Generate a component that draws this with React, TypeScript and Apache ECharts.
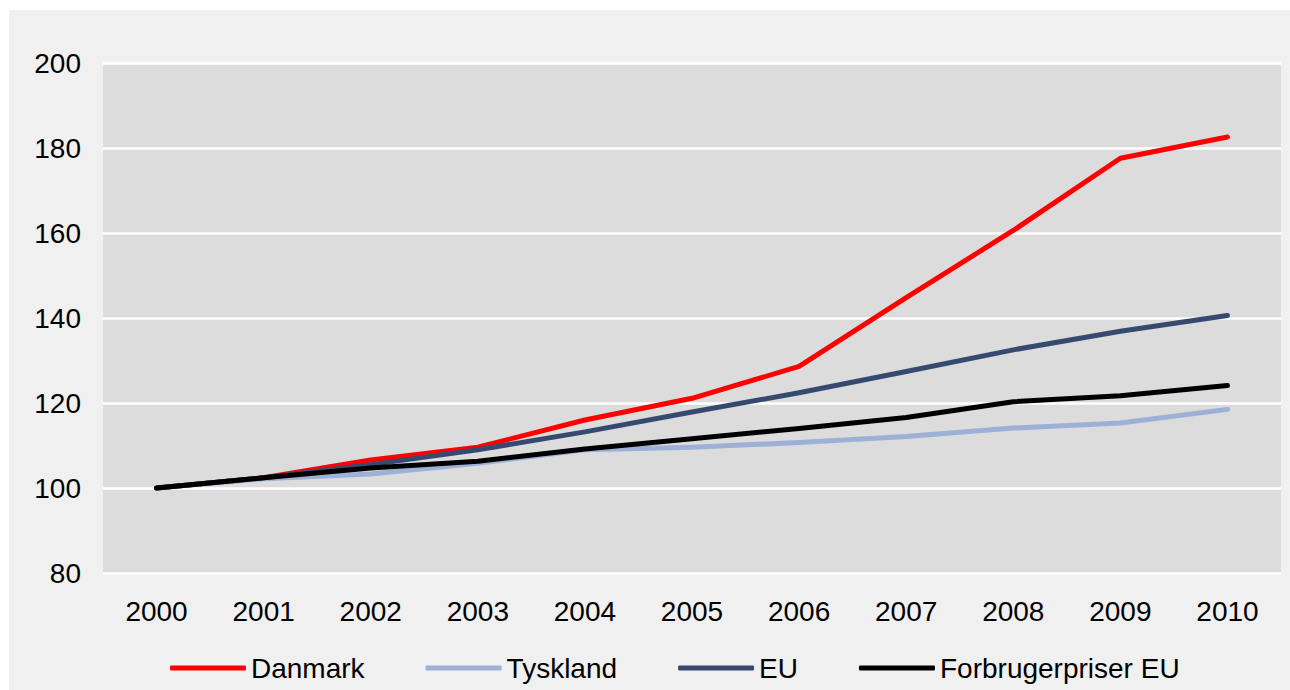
import React, { useEffect, useRef } from "react";
import * as echarts from "echarts";

const years = ["2000", "2001", "2002", "2003", "2004", "2005", "2006", "2007", "2008", "2009", "2010"];
const danmark = [100, 102.4, 106.6, 109.6, 116.0, 121.1, 128.6, 144.8, 160.6, 177.6, 182.6];
const tyskland = [100, 102.2, 103.3, 105.8, 109.0, 109.6, 110.7, 112.1, 114.1, 115.3, 118.5];
const eu = [100, 102.4, 105.5, 109.0, 113.2, 117.9, 122.4, 127.4, 132.5, 136.9, 140.6];
const forbrugerpriser = [100, 102.4, 104.7, 106.3, 109.2, 111.6, 114.0, 116.6, 120.3, 121.7, 124.1];

const FONT = "'Liberation Sans', Arial, sans-serif";

export default function App() {
  const ref = useRef<HTMLDivElement>(null);
  useEffect(() => {
    if (!ref.current) return;
    const chart = echarts.init(ref.current, null, { renderer: "svg" });
    const mk = (name: string, data: number[], color: string) => ({
      name,
      type: "line",
      data,
      showSymbol: false,
      symbol: "none",
      lineStyle: { color, width: 5, cap: "round", join: "round" },
      itemStyle: { color },
    });
    chart.setOption({
      animation: false,
      backgroundColor: "#f0f0f0",
      textStyle: { fontFamily: FONT },
      grid: {
        left: 94,
        right: 9,
        top: 53,
        bottom: 117,
        show: true,
        backgroundColor: "#dcdcdc",
        borderWidth: 0,
      },
      legend: {
        top: 639,
        left: 156,
        itemWidth: 76,
        itemHeight: 5,
        itemGap: 61,
        icon: "roundRect",
        textStyle: { fontSize: 28, color: "#000", fontFamily: FONT },
        data: ["Danmark", "Tyskland", "EU", "Forbrugerpriser EU"],
      },
      xAxis: {
        type: "category",
        data: years,
        boundaryGap: true,
        axisLine: { show: false },
        axisTick: { show: false },
        axisLabel: { fontSize: 28, color: "#000", margin: 24, fontFamily: FONT },
        splitLine: { show: false },
      },
      yAxis: {
        type: "value",
        min: 80,
        max: 200,
        interval: 20,
        axisLine: { show: false },
        axisTick: { show: false },
        axisLabel: { fontSize: 28, color: "#000", margin: 22, fontFamily: FONT },
        splitLine: { show: true, lineStyle: { color: "#ffffff", width: 2.5 } },
      },
      series: [
        mk("Danmark", danmark, "#ff0000"),
        mk("Tyskland", tyskland, "#9cb0d8"),
        mk("EU", eu, "#364a70"),
        mk("Forbrugerpriser EU", forbrugerpriser, "#000000"),
      ],
    });
    return () => chart.dispose();
  }, []);
  return (
    <div
      ref={ref}
      style={{ position: "absolute", left: 9, top: 10, width: 1281, height: 680 }}
    />
  );
}
